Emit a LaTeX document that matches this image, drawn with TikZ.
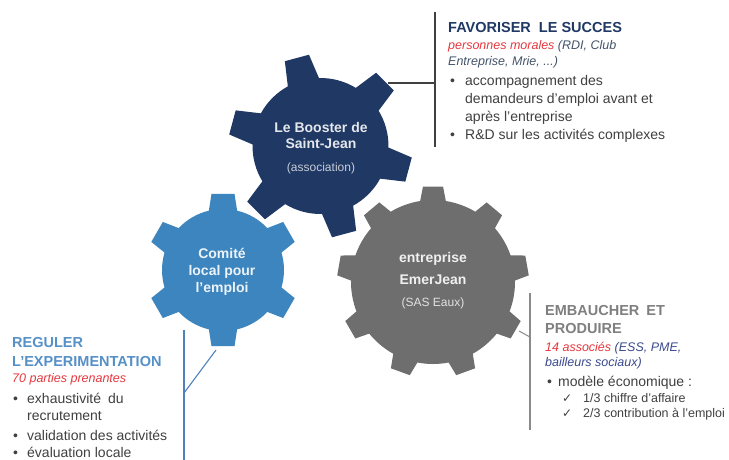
\documentclass[tikz,border=0pt]{standalone}
\usepackage{fontspec}
\setmainfont{Liberation Sans}
\newfontfamily\symfont{DejaVu Sans}
\definecolor{gnavy}{HTML}{203864}
\definecolor{gblue}{HTML}{3D85BE}
\definecolor{ggrey}{HTML}{6E6E6E}
\definecolor{tred}{HTML}{E5383E}
\definecolor{tslate}{HTML}{44546A}
\definecolor{tindigo}{HTML}{3B4A8C}
\definecolor{tdark}{HTML}{404040}
\definecolor{tgrey}{HTML}{7F7F7F}
\definecolor{tblue}{HTML}{5590C6}
\definecolor{lnblue}{HTML}{4F81BD}
\definecolor{lngrey}{HTML}{8A8A8A}
\newcommand{\drawgear}[9]{%
  \begin{scope}[shift={(#2,#3)}]
    \pgfmathtruncatemacro{\gnlast}{#4-1}
    \pgfmathsetmacro{\gstep}{360/#4}
    \fill[#1] ({-#7-#8}:#5)
      \foreach \k [evaluate=\k as \b using {-#7+\k*\gstep}] in {0,...,\gnlast}{
        -- ({\b-#9}:#6) -- ({\b+#9}:#6) -- ({\b+#8}:#5)
        arc[start angle={\b+#8}, end angle={\b+\gstep-#8}, radius=#5]
      } -- cycle;
  \end{scope}}
\tikzset{
  gtxt/.style={anchor=base, inner sep=0pt, font=\fontsize{14}{16}\selectfont\bfseries},
  gsub/.style={anchor=base, inner sep=0pt, font=\fontsize{12}{14}\selectfont},
  ttl/.style={anchor=base west, inner sep=0pt, font=\fontsize{14.5}{17}\selectfont\bfseries},
  sub/.style={anchor=base west, inner sep=0pt, font=\fontsize{12.5}{15}\selectfont\itshape},
  itm/.style={anchor=base west, inner sep=0pt, text=tdark, font=\fontsize{14}{17}\selectfont},
  chk/.style={anchor=base west, inner sep=0pt, text=tdark, font=\fontsize{12.5}{15}\selectfont},
  callline/.style={line width=1.3pt},
}
\begin{document}
\begin{tikzpicture}[x=1pt, y=-1pt]
\useasboundingbox (0,0) rectangle (729,459);
\fill[white] (0,0) rectangle (729,459);

% gears
\drawgear{ggrey}{433}{282}{9}{82}{96}{90}{9}{6}
\drawgear{gblue}{223}{270}{6}{61}{77}{90}{13.4}{8.6}
\drawgear{gnavy}{320.5}{146}{6}{68}{92}{105}{13.7}{7.8}

% gear labels
\node[gtxt, text=white!88!gnavy] (bst1) at (321,132) {Le Booster de};
\node[gtxt, text=white!88!gnavy] (bst2) at (321,148) {Saint-Jean};
\node[gsub, text=white!75!gnavy] (bst3) at (321,171) {(association)};
\node[gtxt, text=white!90!gblue] (com1) at (222,258) {Comité};
\node[gtxt, text=white!90!gblue] (com2) at (222,275) {local pour};
\node[gtxt, text=white!90!gblue] (com3) at (222,292) {l'emploi};
\node[gtxt, text=white!90!ggrey] (emj1) at (433,262) {entreprise};
\node[gtxt, text=white!90!ggrey] (emj2) at (433,284) {EmerJean};
\node[gsub, text=white!80!ggrey] (emj3) at (433,306) {(SAS Eaux)};

% connectors
\coordinate (bt) at (388,83);
\coordinate (v1t) at (435,12);
\coordinate (v1m) at (435,83);
\coordinate (v1b) at (435,147);
\draw[callline, tdark] (v1t) -- (v1b);
\draw[callline, tdark, line width=1.1pt] (bt) -- (v1m);

\coordinate (et) at (519,331);
\coordinate (v2t) at (530,293);
\coordinate (v2m) at (530,337);
\coordinate (v2b) at (530,430);
\draw[callline, lngrey, line width=1.1pt] (v2t) -- (v2b);
\draw[lngrey, line width=1pt] (et) -- (v2m);

\coordinate (ct) at (216,350);
\coordinate (v3t) at (184,330);
\coordinate (v3m) at (184,393);
\coordinate (v3b) at (184,462);
\draw[lnblue, line width=1.1pt] (v3t) -- (v3b);
\draw[lnblue, line width=1.1pt] (ct) -- (v3m);

% top-right callout
\node[ttl, text=gnavy] (fs1) at (448,32) {FAVORISER\hspace{4pt} LE SUCCES};
\node[sub] (fs2) at (448,49) {\textcolor{tred}{personnes morales} \textcolor{tslate}{(RDI, Club}};
\node[sub, text=tslate] (fs3) at (448,65) {Entreprise, Mrie, ...)};
\node[itm] (fs4) at (450,85) {\makebox[15pt][l]{•}accompagnement des};
\node[itm] (fs5) at (465,103) {demandeurs d'emploi avant et};
\node[itm] (fs6) at (465,121) {après l'entreprise};
\node[itm] (fs7) at (450,139) {\makebox[15pt][l]{•}R\&D sur les activités complexes};

% lower-right callout
\node[ttl, text=tgrey] (ep1) at (545,315) {EMBAUCHER\hspace{3pt} ET};
\node[ttl, text=tgrey] (ep2) at (545,333) {PRODUIRE};
\node[sub] (ep3) at (545,351) {\textcolor{tred}{14 associés} \textcolor{tindigo}{(ESS, PME,}};
\node[sub, text=tindigo] (ep4) at (545,366) {bailleurs sociaux)};
\node[itm] (ep5) at (547,386) {\makebox[11pt][l]{•}modèle économique :};
\node[chk] (ep6) at (562,402) {\makebox[21pt][l]{\symfont\fontsize{12}{14}\selectfont ✓}1/3 chiffre d'affaire};
\node[chk] (ep7) at (562,417) {\makebox[21pt][l]{\symfont\fontsize{12}{14}\selectfont ✓}2/3 contribution à l'emploi};

% lower-left callout
\node[ttl, text=tblue] (re1) at (12,347) {REGULER};
\node[ttl, text=tblue] (re2) at (12,366) {L'EXPERIMENTATION};
\node[sub, text=tred] (re3) at (12,382) {70 parties prenantes};
\node[itm] (re4) at (13,403) {\makebox[14pt][l]{•}exhaustivité\hspace{3pt} du};
\node[itm] (re5) at (27,420) {recrutement};
\node[itm] (re6) at (13,440) {\makebox[14pt][l]{•}validation des activités};
\node[itm] (re7) at (13,457) {\makebox[14pt][l]{•}évaluation locale};
\end{tikzpicture}
\end{document}
